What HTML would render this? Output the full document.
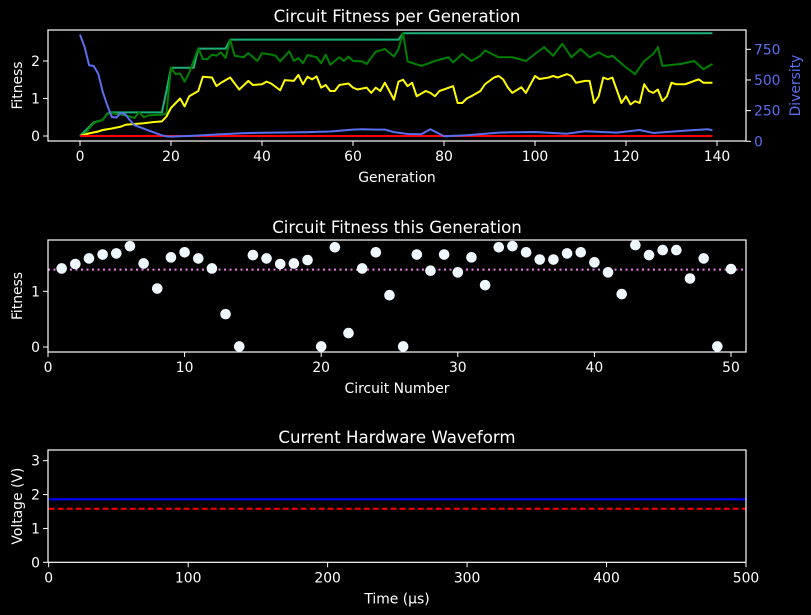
<!DOCTYPE html>
<html><head><meta charset="utf-8">
<style>
html,body{margin:0;padding:0;background:#000;}
svg{display:block;font-family:"DejaVu Sans","Liberation Sans",sans-serif;}
</style></head>
<body>
<svg id="chart" width="811" height="615" viewBox="0 0 811 615" xmlns="http://www.w3.org/2000/svg">
<rect width="811" height="615" fill="#000"/>
<g id="g1"></g>
<g id="g2"></g>
<g id="g3"></g>
</svg>
<script>
// ---- Panel 1 data ----
const bestGens = [0,3,5,6,7,18,19,20,25,26,32,33,70,71,139];
const bestFit  = [0,0.36,0.43,0.6,0.63,0.63,1.2,1.82,1.82,2.33,2.33,2.57,2.57,2.74,2.74];
const greenGens = [0,1,3,4,5,6,7,9,11,12,13,14,15,18,19,20,21,22,23,24,26,27,28,29,30,31,32,33,34,36,37,39,40,42,43,44,46,47,48,49,50,52,53,54,55,57,58,59,60,62,63,65,66,67,69,70,71,72,75,78,81,82,84,86,88,89,92,95,98,100,102,104,106,108,110,112,114,116,117,120,122,124,126,127,128,132,135,137,139];
const greenFit = [0,0.05,0.34,0.39,0.43,0.59,0.61,0.57,0.52,0.48,0.64,0.5,0.55,0.57,0.6,1.83,1.65,1.67,1.45,1.69,2.34,2.05,2.05,2.17,2.14,2.23,2.08,2.57,2.14,2.1,2.21,2.0,2.21,2.17,2.14,1.99,2.26,2.0,2.08,1.94,2.16,2.1,1.94,2.17,1.9,2.1,2.0,2.12,2.0,1.99,1.92,2.25,2.28,2.32,2.12,2.32,2.75,1.99,1.87,2.0,2.1,1.96,2.19,2.0,2.14,2.28,2.1,2.1,2.0,2.19,2.37,2.14,2.46,2.1,2.32,2.1,2.23,2.1,2.14,1.83,1.65,2.0,2.19,2.37,1.87,1.92,2.0,1.78,1.92];
const yellowGens = [0,2,4,5,7,9,10,12,14,16,18,19,20,22,23,24,26,27,29,30,31,33,35,37,38,40,41,42,44,45,47,48,49,50,51,52,53,54,55,56,57,59,60,61,63,64,65,66,67,68,69,70,71,72,73,74,76,77,78,79,82,83,84,85,86,88,89,91,92,93,94,95,97,98,100,101,103,104,105,107,108,109,111,112,113,114,115,116,117,119,120,121,122,123,124,125,126,127,128,129,130,131,133,135,136,137,139];
const yellowFit = [0,0.07,0.12,0.16,0.2,0.25,0.3,0.32,0.34,0.37,0.39,0.52,0.75,1.0,0.79,1.06,1.2,1.58,1.56,1.33,1.42,1.56,1.24,1.47,1.36,1.38,1.45,1.4,1.22,1.49,1.47,1.63,1.38,1.58,1.51,1.59,1.29,1.36,1.2,1.2,1.36,1.4,1.29,1.24,1.29,1.15,1.29,1.2,1.42,1.2,0.97,1.45,1.5,1.33,1.42,1.06,1.2,1.15,1.06,1.2,1.33,0.88,0.88,1.0,1.06,1.2,1.38,1.56,1.6,1.51,1.3,1.15,1.3,1.15,1.6,1.52,1.56,1.6,1.56,1.65,1.6,1.42,1.47,1.47,0.88,1.06,1.56,1.51,1.56,0.88,1.06,0.84,0.93,0.88,1.38,1.2,1.15,1.24,0.93,1.06,1.42,1.38,1.38,1.47,1.51,1.42,1.42];
const redGens = [0,139];
const redFit = [0,0];
const divGens = [0,1,2,3,4,5,6,7,8,9,10,11,12,13,15,17,18,19,20,25,30,35,40,45,50,55,60,62,65,67,69,72,75,77,80,85,92,100,107,111,118,123,126,133,138,139];
const diversity = [870,770,620,614,552,402,293,198,193,234,217,171,130,117,90,62,49,40,38,45,55,65,70,72,75,80,95,98,95,95,75,60,57,98,41,49,71,76,62,82,71,92,68,87,98,90];
const p1XTicks = [0,20,40,60,80,100,120,140];
const p1YTicks = [0,1,2];
const p1DivTicks = [0,250,500,750];
// ---- Panel 2 data ----
const circuitIds = [1,2,3,4,5,6,7,8,9,10,11,12,13,14,15,16,17,18,19,20,21,22,23,24,25,26,27,28,29,30,31,32,33,34,35,36,37,38,39,40,41,42,43,44,45,46,47,48,49,50];
const circuitFit = [1.41,1.49,1.59,1.66,1.68,1.81,1.50,1.05,1.61,1.70,1.59,1.41,0.59,0.01,1.65,1.59,1.49,1.50,1.56,0.01,1.79,0.25,1.41,1.70,0.93,0.01,1.66,1.37,1.66,1.34,1.61,1.11,1.79,1.81,1.70,1.57,1.57,1.68,1.70,1.52,1.34,0.95,1.83,1.65,1.74,1.74,1.23,1.59,0.01,1.40];
const meanFit = [1.39];
const p2XTicks = [0,10,20,30,40,50];
const p2YTicks = [0,1];
// ---- Panel 3 data ----
const waveTimes = [0,50,100,150,200,250,300,350,400,450,500];
const waveVolts = [1.86,1.86,1.86,1.86,1.86,1.86,1.86,1.86,1.86,1.86,1.86];
const refTimes = [0,500];
const refVolts = [1.58,1.58];
const p3XTicks = [0,100,200,300,400,500];
const p3YTicks = [0,1,2,3];

const NS='http://www.w3.org/2000/svg';
const FS=13.9, TS=16.6;
function mk(parent,tag,attrs){const e=document.createElementNS(NS,tag);for(const k in attrs)e.setAttribute(k,attrs[k]);parent.appendChild(e);return e;}
function lin(d0,d1,r0,r1){return v=>r0+(v-d0)/(d1-d0)*(r1-r0);}
function txt(parent,x,y,s,size,anchor,fill,rot){const t=mk(parent,'text',{x:x,y:y,'font-size':size,'text-anchor':anchor,fill:fill});if(rot)t.setAttribute('transform','rotate(-90 '+x+' '+y+')');t.textContent=s;return t;}
function polyline(parent,xs,ys,sx,sy,color,w,dash){let d='';for(let i=0;i<xs.length;i++)d+=(i?'L':'M')+sx(xs[i]).toFixed(2)+','+sy(ys[i]).toFixed(2);const p=mk(parent,'path',{d:d,fill:'none',stroke:color,'stroke-width':w,'stroke-linejoin':'round'});if(dash)p.setAttribute('stroke-dasharray',dash);return p;}
function axes(g,L,T,R,B,sx,sy,xt,yt,xlab,ylab,title,titleY){
  const f=mk(g,'rect',{x:L,y:T,width:R-L,height:B-T,fill:'none',stroke:'#fff','stroke-width':1.2});
  
  xt.forEach(v=>{const x=sx(v);mk(g,'line',{x1:x,x2:x,y1:B,y2:B+5,stroke:'#fff','stroke-width':1});
    const t=txt(g,x,B+20,String(v),FS,'middle','#fff');});
  yt.forEach(v=>{const y=sy(v);mk(g,'line',{x1:L-5,x2:L,y1:y,y2:y,stroke:'#fff','stroke-width':1});
    const t=txt(g,L-8,y+5,String(v),FS,'end','#fff');});
  let t=txt(g,(L+R)/2,B+41,xlab,FS,'middle','#fff');
  t=txt(g,22,(T+B)/2,ylab,FS,'middle','#fff',true);
  t=txt(g,(L+R)/2,titleY,title,TS,'middle','#fff');
}
// Panel 1
(function(){
  const g=document.getElementById('g1');const L=48,T=30,R=746,B=141;
  const sx=lin(0,140,80,717), sy=lin(0,2,136,61), sd=lin(0,750,141.3,49.3);
  let p=polyline(g,bestGens,bestFit,sx,sy,'#1fb07a',2);
  
  p=polyline(g,greenGens,greenFit,sx,sy,'#008000',2);
  
  p=polyline(g,yellowGens,yellowFit,sx,sy,'#ffff00',2);
  
  p=polyline(g,redGens,redFit,sx,sy,'#ff0000',2);
  
  p=polyline(g,divGens,diversity,sx,sd,'#5a6ef0',2);
  
  axes(g,L,T,R,B,sx,sy,p1XTicks,p1YTicks,'Generation','Fitness','Circuit Fitness per Generation',22);
  p1DivTicks.forEach(v=>{const y=sd(v);mk(g,'line',{x1:R,x2:R+5,y1:y,y2:y,stroke:'#fff','stroke-width':1});
    const t=txt(g,R+8,y+5,String(v),FS,'start','#5a6ef0');});
  const t=txt(g,800,(T+B)/2,'Diversity',FS,'middle','#5a6ef0',true);
  
})();
// Panel 2
(function(){
  const g=document.getElementById('g2');const L=48,T=240,R=746,B=352;
  const sx=lin(0,50,48,731), sy=lin(0,1,347,291.3);
  const m=mk(g,'line',{x1:L,x2:R,y1:sy(meanFit[0]),y2:sy(meanFit[0]),stroke:'#ee82ee','stroke-width':2,'stroke-dasharray':'2,3.5'});
  
  circuitIds.forEach((c,i)=>{const e=mk(g,'circle',{cx:sx(c),cy:sy(circuitFit[i]),r:5.3,fill:'#f0f8ff'});
    
    });
  axes(g,L,T,R,B,sx,sy,p2XTicks,p2YTicks,'Circuit Number','Fitness','Circuit Fitness this Generation',233);
})();
// Panel 3
(function(){
  const g=document.getElementById('g3');const L=48,T=450,R=746,B=562.3;
  const sx=lin(0,500,48.7,746), sy=lin(0,3,562.3,460.7);
  let p=polyline(g,waveTimes,waveVolts,sx,sy,'#0000ff',2.2);
  
  p=polyline(g,refTimes,refVolts,sx,sy,'#ff0000',2,'6,3');
  
  axes(g,L,T,R,B,sx,sy,p3XTicks,p3YTicks,'Time (µs)','Voltage (V)','Current Hardware Waveform',443);
})();
</script>
</body></html>
